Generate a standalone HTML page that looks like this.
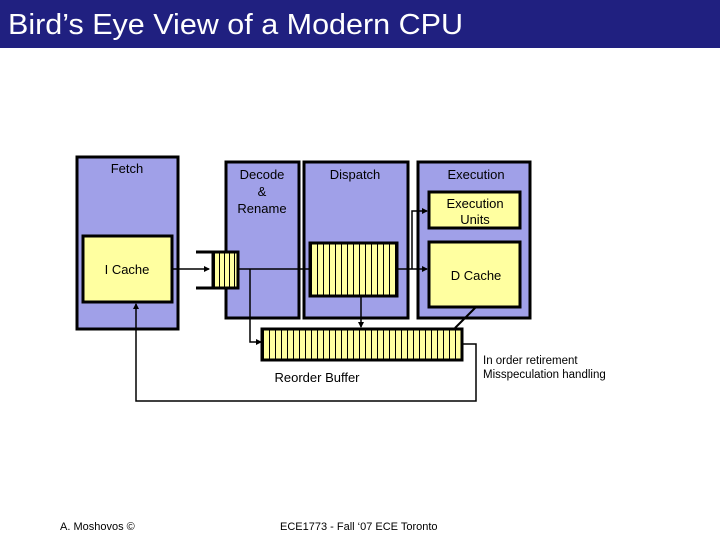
<!DOCTYPE html>
<html><head><meta charset="utf-8"><style>body{margin:0;background:#fff}svg{display:block}</style></head><body>
<svg width="720" height="540" xmlns="http://www.w3.org/2000/svg" font-family="Liberation Sans, sans-serif">
<defs>
<pattern id="st" width="6" height="10" patternUnits="userSpaceOnUse"><rect width="6" height="10" fill="#ffffa0"/><rect x="5" width="1" height="10" fill="#000"/></pattern>
<pattern id="st2" width="5" height="10" patternUnits="userSpaceOnUse"><rect width="5" height="10" fill="#ffffa0"/><rect x="4" width="1" height="10" fill="#000"/></pattern>
<marker id="a" markerWidth="6" markerHeight="6" refX="5" refY="3" orient="auto" markerUnits="userSpaceOnUse"><path d="M0,0L6,3L0,6z" fill="#000"/></marker>
</defs>
<rect x="0" y="0" width="720" height="48" fill="#202080"/>
<text x="8" y="34" font-size="29" fill="#fff" textLength="455" lengthAdjust="spacingAndGlyphs">Bird’s Eye View of  a Modern CPU</text>
<g stroke="#000" stroke-width="3" fill="#a0a0e8">
<rect x="77" y="157" width="101" height="172"/>
<rect x="226" y="162" width="73" height="156"/>
<rect x="304" y="162" width="104" height="156"/>
<rect x="418" y="162" width="112" height="156"/>
</g>
<g stroke="#000" stroke-width="3" fill="#ffffa0">
<rect x="83" y="236" width="89" height="66"/>
<rect x="429" y="192" width="91" height="36"/>
<rect x="429" y="242" width="91" height="65"/>
<rect x="213" y="252" width="25" height="36" fill="url(#st2)"/>
<rect x="310" y="243" width="87" height="53" fill="url(#st)"/>
<rect x="262" y="329" width="200" height="31" fill="url(#st)"/>
</g>
<g stroke="#000" stroke-width="1.5" fill="none">
<path d="M196,252H213M196,288H213" stroke-width="3"/>
<path d="M172,269H209" marker-end="url(#a)"/>
<path d="M238,269H310"/>
<path d="M250,269V342H261" marker-end="url(#a)"/>
<path d="M361,296V327" marker-end="url(#a)"/>
<path d="M397,269H427" marker-end="url(#a)"/>
<path d="M412,269V211H427" marker-end="url(#a)"/>
<path d="M476,307L455,328" stroke-width="2"/>
<path d="M462,344H476V401H136V304" marker-end="url(#a)"/>
</g>
<g font-size="13" fill="#000" text-anchor="middle">
<text x="127" y="173">Fetch</text>
<text x="127" y="274">I Cache</text>
<text x="262" y="179">Decode</text>
<text x="262" y="196">&amp;</text>
<text x="262" y="213">Rename</text>
<text x="355" y="179">Dispatch</text>
<text x="476" y="179">Execution</text>
<text x="475" y="208">Execution</text>
<text x="475" y="224">Units</text>
<text x="476" y="280">D Cache</text>
<text x="317" y="382">Reorder Buffer</text>
</g>
<text x="483" y="364" font-size="11.5">In order retirement</text>
<text x="483" y="378" font-size="11.5">Misspeculation handling</text>
<text x="60" y="530" font-size="11">A. Moshovos ©</text>
<text x="280" y="530" font-size="11">ECE1773 - Fall ‘07 ECE Toronto</text>
</svg>
</body></html>
